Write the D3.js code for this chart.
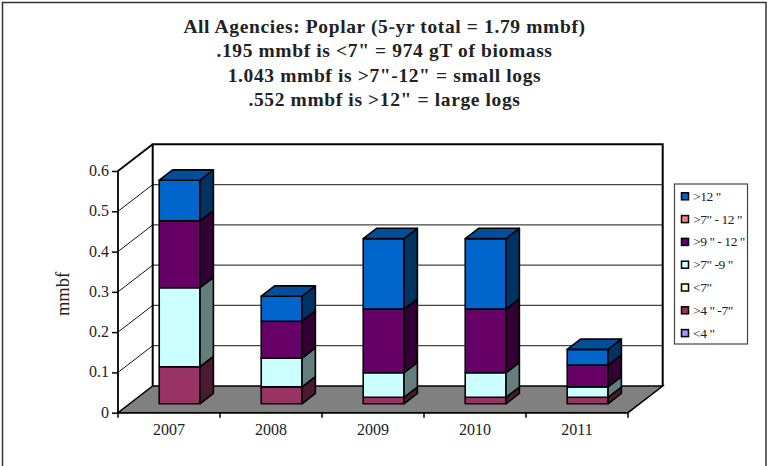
<!DOCTYPE html>
<html>
<head>
<meta charset="utf-8">
<script src="https://cdn.jsdelivr.net/npm/d3@7"></script>
<style>
  html, body { margin: 0; padding: 0; background: #fff; }
  svg { display: block; }
  text { font-family: "Liberation Serif", serif; fill: #222; }
</style>
</head>
<body>
<svg id="chart" width="767" height="466"></svg>
<script>
const years = ['2007', '2008', '2009', '2010', '2011'];
const yTicks = [0, 0.1, 0.2, 0.3, 0.4, 0.5, 0.6];

// stacked bottom to top
const seriesNames = ['lt4', 'gt4to7', 'lt7', 'gt7to9', 'gt9to12', 'gt7to12', 'gt12'];
const lt4 = [0, 0, 0, 0, 0];
const gt4to7 = [0.092, 0.042, 0.016, 0.016, 0.016];
const lt7 = [0, 0, 0, 0, 0];
const gt7to9 = [0.196, 0.071, 0.061, 0.061, 0.026];
const gt9to12 = [0.166, 0.092, 0.158, 0.158, 0.054];
const gt7to12 = [0, 0, 0, 0, 0];
const gt12 = [0.101, 0.062, 0.175, 0.175, 0.039];
const seriesValues = [lt4, gt4to7, lt7, gt7to9, gt9to12, gt7to12, gt12];

// legend reads top to bottom
const legendLabels = ['>12 "', '>7" - 12 "', '>9 " - 12 "', '>7" -9 "', '<7"', '>4 " -7"', '<4 "'];
const legendKeys = ['gt12', 'gt7to12', 'gt9to12', 'gt7to9', 'lt7', 'gt4to7', 'lt4'];

const titleLines = [
  'All Agencies: Poplar (5-yr total = 1.79 mmbf)',
  '.195 mmbf is <7" = 974 gT of biomass',
  '1.043 mmbf is >7"-12" = small logs',
  '.552 mmbf is >12" = large logs',
];

const front = {
  lt4: '#9999ff', gt4to7: '#993366', lt7: '#ffffcc', gt7to9: '#ccffff',
  gt9to12: '#660066', gt7to12: '#ff8080', gt12: '#0066cc',
};

const svg = d3.select('#chart');

// outer chart frame, open at the bottom like the source image
svg.append('path')
  .attr('d', 'M2.5,466V2.5H766V466')
  .attr('fill', 'none')
  .attr('stroke', '#333')
  .attr('stroke-width', 1.5);

// Title
svg.append('g')
  .selectAll('text')
  .data(titleLines)
  .enter()
  .append('text')
  .attr('x', 384.5)
  .attr('y', (d, i) => 33 + i * 24.4)
  .attr('text-anchor', 'middle')
  .attr('font-size', 19.5)
  .attr('font-weight', 'bold')
  .attr('letter-spacing', 0.62)
  .attr('fill', '#111')
  .text((d) => d);

// Scales
const x = d3.scaleBand()
  .domain(years)
  .range([118, 628])
  .paddingInner(0.6)
  .paddingOuter(0.3);

const y = d3.scaleLinear().domain([0, 0.6]).range([412.7, 171]);

// depth runs 0 (front of floor) to 1 (back wall)
const depthX = d3.scaleLinear().domain([0, 1]).range([0, 34.7]);
const depthY = d3.scaleLinear().domain([0, 1]).range([0, -26.7]);
const barFront = 0.335;
const barBack = 0.72;

const [x0, x1] = x.range();
const pt = (px, v, d) => [px + depthX(d), y(v) + depthY(d)];
const poly = (pts) => d3.line()(pts) + 'Z';

// Floor
svg.append('path')
  .attr('d', poly([pt(x0, 0, 0), pt(x1, 0, 0), pt(x1, 0, 1), pt(x0, 0, 1)]))
  .attr('fill', '#808080')
  .attr('stroke', '#000')
  .attr('stroke-width', 1.5);

// Gridlines on the back wall and the left wall
const grid = svg.append('g');
grid.selectAll('.back')
  .data(yTicks.slice(1, -1))
  .enter()
  .append('line')
  .attr('x1', pt(x0, 0, 1)[0])
  .attr('x2', pt(x1, 0, 1)[0])
  .attr('y1', (d) => pt(x0, d, 1)[1])
  .attr('y2', (d) => pt(x0, d, 1)[1])
  .attr('stroke', '#444')
  .attr('stroke-width', 1.3);
grid.selectAll('.side')
  .data(yTicks.slice(1, -1))
  .enter()
  .append('line')
  .attr('x1', x0)
  .attr('y1', (d) => y(d))
  .attr('x2', pt(x0, 0, 1)[0])
  .attr('y2', (d) => pt(x0, d, 1)[1])
  .attr('stroke', '#111')
  .attr('stroke-width', 1);

// Walls outline
const yMax = y.domain()[1];
svg.append('path')
  .attr('d', d3.line()([pt(x0, 0, 1), pt(x0, yMax, 1), pt(x1, yMax, 1), pt(x1, 0, 1)]))
  .attr('fill', 'none')
  .attr('stroke', '#000')
  .attr('stroke-width', 2);
svg.append('path')
  .attr('d', d3.line()([pt(x0, 0, 0), pt(x0, yMax, 0), pt(x0, yMax, 1)]))
  .attr('fill', 'none')
  .attr('stroke', '#000')
  .attr('stroke-width', 1.8);

// Bars
const rows = years.map((year, i) => {
  const row = { year };
  seriesNames.forEach((name, s) => { row[name] = seriesValues[s][i]; });
  return row;
});
const stacked = d3.stack().keys(seriesNames)(rows);
const tops = rows.map((row) => d3.sum(seriesNames, (k) => row[k]));

const shade = (c, k) => d3.rgb(c).darker(k).formatHex();
const barShift = -1;
const bars = svg.append('g')
  .attr('transform', `translate(${barShift},0)`)
  .attr('stroke', '#000')
  .attr('stroke-width', 1.6)
  .attr('stroke-linejoin', 'round');

stacked.forEach((layer) => {
  layer.forEach((seg) => {
    const [v0, v1] = seg;
    if (v1 - v0 <= 0) return;
    const left = x(seg.data.year);
    const right = left + x.bandwidth();
    const g = bars.append('g');
    // front
    g.append('path')
      .attr('d', poly([pt(left, v0, barFront), pt(right, v0, barFront), pt(right, v1, barFront), pt(left, v1, barFront)]))
      .attr('fill', front[layer.key]);
    // side
    g.append('path')
      .attr('d', poly([pt(right, v0, barFront), pt(right, v0, barBack), pt(right, v1, barBack), pt(right, v1, barFront)]))
      .attr('fill', shade(front[layer.key], 2));
  });
});

// top caps use the last non-empty series
rows.forEach((row, i) => {
  const left = x(row.year);
  const right = left + x.bandwidth();
  const key = seriesNames.filter((k) => row[k] > 0).pop();
  bars.append('path')
    .attr('d', poly([pt(left, tops[i], barFront), pt(right, tops[i], barFront), pt(right, tops[i], barBack), pt(left, tops[i], barBack)]))
    .attr('fill', shade(front[key], 0.75));
});

// Axes
const yAxis = d3.axisLeft(y)
  .tickValues(yTicks)
  .tickSize(6)
  .tickPadding(3)
  .tickFormat((d) => (d === 0 ? '0' : d.toFixed(1)));
const yG = svg.append('g')
  .attr('transform', `translate(${x0},0)`)
  .call(yAxis);
yG.select('.domain').remove();
yG.selectAll('line').attr('stroke', '#000').attr('stroke-width', 1.5);
yG.selectAll('text').attr('font-size', 16).attr('font-family', '"Liberation Serif", serif').attr('fill', '#222');
yG.selectAll('text').attr('dy', '0.28em');

const xAxis = d3.axisBottom(x).tickSize(0).tickPadding(11);
const xG = svg.append('g')
  .attr('transform', `translate(0,${y(0)})`)
  .call(xAxis);
xG.select('.domain').remove();
xG.selectAll('text').attr('font-size', 16).attr('font-family', '"Liberation Serif", serif').attr('fill', '#222');

// x ticks sit on the category boundaries
svg.append('g')
  .selectAll('line')
  .data(d3.range(years.length + 1))
  .enter()
  .append('line')
  .attr('x1', (d) => x0 + d * x.step())
  .attr('x2', (d) => x0 + d * x.step())
  .attr('y1', y(0))
  .attr('y2', y(0) + 5)
  .attr('stroke', '#000')
  .attr('stroke-width', 1.5);
svg.append('line')
  .attr('x1', x0).attr('x2', x1)
  .attr('y1', y(0)).attr('y2', y(0))
  .attr('stroke', '#000')
  .attr('stroke-width', 1.5);

// y axis title
svg.append('text')
  .attr('transform', 'translate(69,294) rotate(-90)')
  .attr('text-anchor', 'middle')
  .attr('font-size', 18.5)
  .text('mmbf');

// Legend
const legend = svg.append('g');
legend.append('rect')
  .attr('x', 674.5)
  .attr('y', 184)
  .attr('width', 73)
  .attr('height', 160)
  .attr('fill', '#fff')
  .attr('stroke', '#444')
  .attr('stroke-width', 1.2);
const legendRow = legend.selectAll('g')
  .data(legendKeys)
  .enter()
  .append('g')
  .attr('transform', (d, i) => `translate(681,${196.3 + i * 22.8})`);
legendRow.append('rect')
  .attr('x', 0.5)
  .attr('y', -3.5)
  .attr('width', 7)
  .attr('height', 7)
  .attr('fill', (d) => front[d])
  .attr('stroke', '#000')
  .attr('stroke-width', 1.5);
legendRow.append('text')
  .attr('x', 12)
  .attr('y', 4.5)
  .attr('font-size', 13.5)
  .attr('letter-spacing', -0.45)
  .text((d, i) => legendLabels[i]);
</script>
</body>
</html>
